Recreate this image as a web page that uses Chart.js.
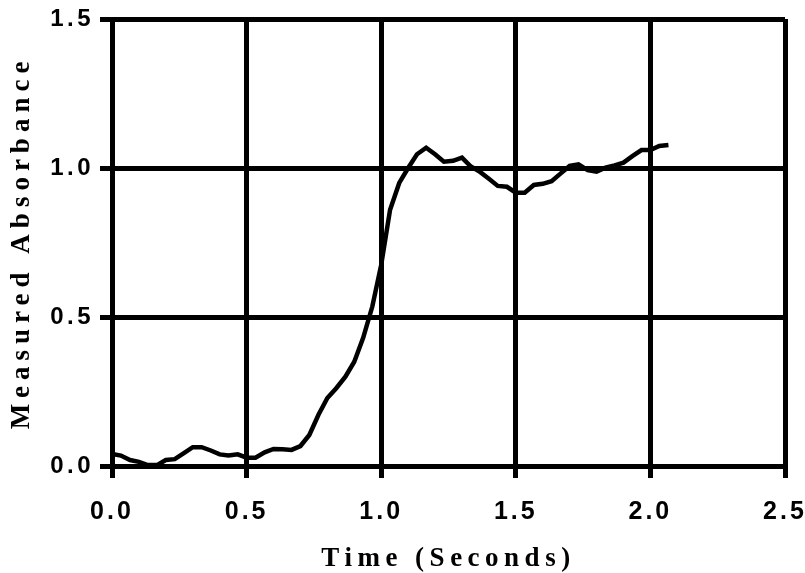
<!DOCTYPE html>
<html lang="en">
<head>
    <meta charset="UTF-8">
    <script src="https://cdn.jsdelivr.net/npm/chart.js@4/dist/chart.umd.min.js"></script>
    <title>Measured Absorbance</title>
    <style type="text/css">
        body { margin: 0; background: #ffffff; }
        #box { width: 805px; height: 573px; }
    </style>
</head>
<body>
    <div id="box">
        <canvas id="absCanvas"></canvas>
    </div>
<script>

// time in seconds
var timeValues = [0, 0.033, 0.067, 0.1, 0.133, 0.167, 0.2, 0.233, 0.267, 0.3,
    0.333, 0.367, 0.4, 0.433, 0.467, 0.5, 0.533, 0.567, 0.6, 0.633,
    0.667, 0.7, 0.733, 0.767, 0.8, 0.833, 0.867, 0.9, 0.933, 0.967,
    1.0, 1.033, 1.067, 1.1, 1.133, 1.167, 1.2, 1.233, 1.267, 1.3,
    1.333, 1.367, 1.4, 1.433, 1.467, 1.5, 1.533, 1.567, 1.6, 1.633,
    1.667, 1.7, 1.733, 1.767, 1.8, 1.833, 1.867, 1.9, 1.933, 1.967,
    2.0, 2.033, 2.067];

var absorbance = [0.040, 0.035, 0.020, 0.014, 0.003, 0.003, 0.020, 0.023, 0.043, 0.063,
    0.063, 0.052, 0.039, 0.035, 0.039, 0.028, 0.028, 0.046, 0.057, 0.056,
    0.054, 0.067, 0.104, 0.172, 0.228, 0.261, 0.300, 0.350, 0.430, 0.535,
    0.675, 0.860, 0.950, 1.000, 1.046, 1.068, 1.046, 1.021, 1.024, 1.035,
    1.005, 0.987, 0.964, 0.940, 0.937, 0.917, 0.917, 0.943, 0.947, 0.956,
    0.982, 1.007, 1.012, 0.993, 0.988, 1.001, 1.009, 1.018, 1.040, 1.060,
    1.060, 1.074, 1.077];

var xTicks = [0, 0.5, 1.0, 1.5, 2.0, 2.5];
var yTicks = [0, 0.5, 1.0, 1.5];

var points = [];
for (var i = 0; i < timeValues.length; i++) {
    points.push({x: timeValues[i], y: absorbance[i]});
}

// canvas letter spacing, chart.js has no option for it
var letterGaps = {x: {labels: '3px', title: '5.5px'}, y: {labels: '3.5px', title: '6px'}};

function wrapSpacing(scale, fn, gap) {
    var orig = scale[fn];
    scale[fn] = function(a) {
        this.ctx.save();
        this.ctx.letterSpacing = gap;
        orig.call(this, a);
        this.ctx.restore();
    };
}

var spacing = {
    id: 'spacing',
    beforeUpdate(chart) { chart.ctx.letterSpacing = '3px'; },
    beforeDraw(chart) {
        Object.values(chart.scales).forEach(function(s) {
            if (s._spaced) return;
            wrapSpacing(s, 'drawLabels', letterGaps[s.id].labels);
            wrapSpacing(s, 'drawTitle', letterGaps[s.id].title);
            s._spaced = true;
        });
    }
};

var titleFont = {family: 'Liberation Serif', size: 27, weight: 'bold', lineHeight: 1};

var chart = new Chart(document.getElementById('absCanvas'), {
    type: 'scatter',
    data: {
        datasets: [{
            data: points,
            showLine: true,
            borderColor: '#000000',
            borderWidth: 4.5,
            pointRadius: 0,
            tension: 0
        }]
    },
    options: {
        responsive: true,
        maintainAspectRatio: false,
        animation: false,
        layout: {padding: {top: 19, right: 20, left: 0, bottom: 0}},
        plugins: {legend: {display: false}, tooltip: {enabled: false}},
        scales: {
            x: {
                type: 'linear',
                min: 0,
                max: 2.5,
                afterBuildTicks: function(axis) { axis.ticks = xTicks.map(function(v) { return {value: v}; }); },
                afterFit: function(axis) {
                    axis.height = 107;
                    axis.paddingLeft = 0;
                    axis.paddingRight = 0;
                },
                grid: {color: '#000000', lineWidth: 5, tickLength: 12},
                border: {color: '#000000', width: 5},
                ticks: {
                    color: '#000000',
                    font: {family: 'Liberation Sans', size: 25, weight: 'bold'},
                    padding: 19,
                    maxRotation: 0,
                    callback: function(v) { return v.toFixed(1); }
                },
                title: {display: true, text: 'Time (Seconds)', color: '#000000', font: titleFont, padding: {top: 0, bottom: 0}}
            },
            y: {
                type: 'linear',
                min: 0,
                max: 1.5,
                afterBuildTicks: function(axis) { axis.ticks = yTicks.map(function(v) { return {value: v}; }); },
                afterFit: function(axis) {
                    axis.width = 112;
                    axis.paddingTop = 0;
                    axis.paddingBottom = 0;
                },
                grid: {color: '#000000', lineWidth: 5, tickLength: 12},
                border: {color: '#000000', width: 5},
                ticks: {
                    color: '#000000',
                    font: {family: 'Liberation Sans', size: 24, weight: 'bold'},
                    padding: 6,
                    callback: function(v) { return v.toFixed(1); }
                },
                title: {display: true, text: 'Measured Absorbance', color: '#000000', font: titleFont, padding: {top: 9, bottom: 0}}
            }
        }
    },
    plugins: [spacing]
});

</script>
</body>
</html>
